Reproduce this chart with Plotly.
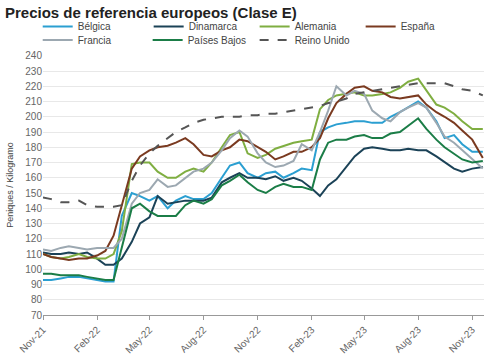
import plotly.graph_objects as go

dates = ["2021-11-01","2021-11-15","2021-12-01","2021-12-15","2022-01-01","2022-01-15","2022-02-01","2022-02-15",
         "2022-03-01","2022-03-15","2022-04-01","2022-04-15","2022-05-01","2022-05-15","2022-06-01","2022-06-15",
         "2022-07-01","2022-07-15","2022-08-01","2022-08-15","2022-09-01","2022-09-15","2022-10-01","2022-10-15",
         "2022-11-01","2022-11-15","2022-12-01","2022-12-15","2023-01-01","2023-01-15","2023-02-01","2023-02-15",
         "2023-03-01","2023-03-15","2023-04-01","2023-04-15","2023-05-01","2023-05-15","2023-06-01","2023-06-15",
         "2023-07-01","2023-07-15","2023-08-01","2023-08-15","2023-09-01","2023-09-15","2023-10-01","2023-10-15",
         "2023-11-01","2023-11-19"]

belgica = [93,93,94,95,95,94,93,92,92,135,150,148,145,148,140,145,148,146,146,150,160,168,170,163,
           160,163,164,160,163,166,165,190,193,195,196,197,197,196,196,200,203,206,210,206,197,186,188,182,177,177]
dinamarca = [111,110,110,111,110,111,107,103,103,107,118,130,134,148,143,144,145,145,145,147,157,160,163,160,
             160,159,161,158,160,158,153,148,155,159,167,174,179,180,179,178,178,179,178,178,174,170,166,164,166,167]
alemania = [110,108,107,108,110,108,107,107,110,125,169,170,170,164,160,160,164,166,164,170,180,188,190,176,
            173,175,179,181,183,184,185,205,211,214,215,216,214,214,215,216,219,223,225,217,208,206,202,197,192,192]
espana = [110,108,107,106,107,107,109,112,122,142,166,174,178,180,181,183,186,182,175,174,178,180,185,184,
          180,177,172,174,177,177,180,186,199,209,215,219,220,217,216,213,212,213,214,208,203,200,196,191,185,173]
francia = [113,112,114,115,114,113,114,114,114,120,143,150,152,159,154,155,160,164,166,170,178,186,191,187,
           176,170,167,168,171,182,178,190,204,220,214,217,215,204,199,197,203,206,209,206,196,187,183,178,172,166]
paises_bajos = [97,97,96,96,96,95,94,93,93,115,140,143,138,135,135,135,142,145,143,146,155,158,162,157,
                152,150,154,156,154,154,152,172,183,185,185,187,188,186,186,189,190,194,199,192,185,180,176,172,170,171]
reino_unido = [147,146,144,144,145,142,141,141,141,142,158,168,176,181,186,190,193,196,198,199,200,200,200,201,
               201,202,202,203,204,205,206,207,209,210,212,215,216,217,218,219,220,221,222,222,222,222,220,218,217,214]

series = [
    ("Bélgica", belgica, "#2b9fd1", "solid"),
    ("Dinamarca", dinamarca, "#1b4257", "solid"),
    ("Alemania", alemania, "#7fae41", "solid"),
    ("España", espana, "#7a3a20", "solid"),
    ("Francia", francia, "#9ca8b1", "solid"),
    ("Países Bajos", paises_bajos, "#1b7d47", "solid"),
    ("Reino Unido", reino_unido, "#555555", "dash"),
]
# legend slot for each series: (x in paper, y in paper)
legend_slots = [(-0.012, 1.1096), (0.2396, 1.1096), (0.4799, 1.1096), (0.7203, 1.1096),
                (-0.012, 1.0577), (0.2373, 1.0577), (0.4799, 1.0577)]

font_family = "Liberation Sans, Arial, sans-serif"
fig = go.Figure()
legends = {}
for i, (name, vals, color, dash) in enumerate(series):
    key = "legend" if i == 0 else f"legend{i+1}"
    fig.add_trace(go.Scatter(x=dates, y=vals, name=name, mode="lines", legend=key,
                             line=dict(color=color, width=2, dash=dash)))
    lx, ly = legend_slots[i]
    legends[key] = dict(x=lx, y=ly, xanchor="left", yanchor="middle", orientation="h",
                        font=dict(size=10, color="#444444", family=font_family), itemwidth=30,
                        bgcolor="rgba(0,0,0,0)")

fig.update_layout(
    width=500, height=363,
    margin=dict(l=43, r=16, t=55, b=48, autoexpand=False),
    paper_bgcolor="white", plot_bgcolor="white",
    font=dict(family=font_family, size=10, color="#666666"),
    title=dict(text="<b>Precios de referencia europeos (Clase E)</b>", x=0.01, xanchor="left",
               y=0.965, yanchor="middle", font=dict(size=15, color="#222222", family=font_family)),
    showlegend=True,
    **legends,
)
fig.update_xaxes(range=["2021-11-01", "2023-11-21"], tickformat="%b-%y", dtick="M3",
                 tick0="2021-11-01", tickangle=-45, showgrid=False, showline=True,
                 linecolor="#999999", ticks="outside", tickcolor="#999999", ticklen=4,
                 tickfont=dict(size=10, color="#666666"))
fig.update_yaxes(range=[70, 240.5], dtick=10, tick0=70, showgrid=True, gridcolor="#e8e8e8",
                 zeroline=False, showline=False, tickfont=dict(size=10, color="#666666"),
                 title=dict(text="Peniques / Kilogramo", font=dict(size=9, color="#444444"), standoff=10))

fig.write_html("out.html", config={"displayModeBar": False},
               post_script="document.body.style.margin='0';")
